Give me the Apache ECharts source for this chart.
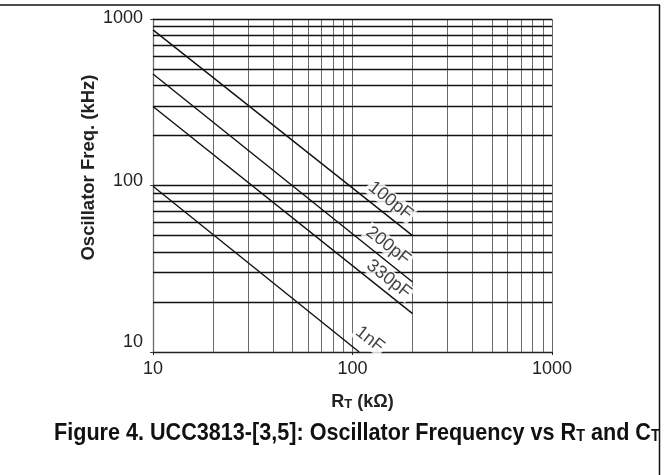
<!DOCTYPE html>
<html><head><meta charset="utf-8">
<script src="https://cdn.jsdelivr.net/npm/echarts@6/dist/echarts.min.js"></script>
<style>html,body{margin:0;padding:0;background:#fff}#c{width:669px;height:475px}</style>
</head><body><div id="c"></div>
<script>
// ---- data ----
const xTickLabels = ['10', '100', '1000'];
const yTickLabels = ['10', '100', '1000'];
const xGridValues = [10, 20, 30, 40, 50, 60, 70, 80, 90, 100, 200, 300, 400, 500, 600, 700, 800, 900, 1000];
const yGridValues = [20, 30, 40, 50, 60, 70, 80, 90, 100, 200, 300, 400, 500, 600, 700, 800, 900, 1000];
const seriesNames = ['100pF', '200pF', '330pF', '1nF'];
const rt100pF = [10, 200];
const f100pF = [860, 50];
const rt200pF = [10, 200];
const f200pF = [467, 26.3];
const rt330pF = [10, 200];
const f330pF = [298, 17];
const rt1nF = [10, 108];
const f1nF = [99, 10];
const labelRT = [155, 151, 152, 122];
const labelF = [81, 43.5, 27.4, 11.9];

// ---- build ----
const zip = (xs, ys) => xs.map((x, i) => [x, ys[i]]);
const curves = [zip(rt100pF, f100pF), zip(rt200pF, f200pF), zip(rt330pF, f330pF), zip(rt1nF, f1nF)];
const FONT = '"Liberation Sans", Arial, Helvetica, sans-serif';

const chart = echarts.init(document.getElementById('c'), null, {renderer: 'canvas'});
const series = [];
series.push({
  type: 'line', data: [], silent: true, z: 1, animation: false,
  markLine: {
    silent: true, symbol: ['none', 'none'], animation: false,
    label: {show: false},
    lineStyle: {type: 'solid', color: '#6a6a6a', width: 1},
    data: xGridValues.map(v => ({xAxis: v}))
  }
});
series.push({
  type: 'line', data: [], silent: true, z: 2, animation: false,
  markLine: {
    silent: true, symbol: ['none', 'none'], animation: false,
    label: {show: false},
    lineStyle: {type: 'solid', color: '#111', width: 1.4},
    data: yGridValues.map(v => ({yAxis: v}))
  }
});
curves.forEach((c, i) => {
  series.push({
    name: seriesNames[i], type: 'line', data: c, showSymbol: false, symbol: 'none',
    z: 6, animation: false, silent: true,
    lineStyle: {color: '#111', width: 1.4}
  });
});
series.push({
  type: 'scatter', z: 5, animation: false, silent: true,
  symbolSize: 1, itemStyle: {color: 'rgba(0,0,0,0)'},
  data: labelRT.map((x, i) => [x, labelF[i], seriesNames[i]]),
  label: {
    show: true, position: 'inside', rotate: -38,
    formatter: p => p.value[2],
    fontFamily: FONT, fontSize: 18, color: '#111',
    backgroundColor: '#fff', padding: [0, 2, 0, 2]
  }
});

const yLabelStyle = {fontFamily: FONT, fontSize: 18, color: '#222'};
chart.setOption({
  animation: false,
  backgroundColor: '#fff',
  grid: {left: 153, right: 117, top: 19, bottom: 123, containLabel: false, outerBoundsMode: 'none'},
  xAxis: {
    type: 'log', logBase: 10, min: 10, max: 1000,
    axisLine: {show: true, lineStyle: {color: '#222', width: 1.4}},
    axisTick: {show: true, length: 3, lineStyle: {color: '#222'}},
    splitLine: {show: false},
    axisLabel: {fontFamily: FONT, fontSize: 18, color: '#222', margin: 8,
      formatter: v => xTickLabels.find(t => +t === Math.round(v)) || ''},
    name: '{r|R}{t|T}{r| (kΩ)}',
    nameLocation: 'middle', nameGap: 41, nameMoveOverlap: false,
    nameTextStyle: {padding: [0, 0, 0, 20],
      rich: {r: {fontFamily: FONT, fontSize: 18, fontWeight: 'bold', color: '#222', verticalAlign: 'bottom'},
             t: {fontFamily: FONT, fontSize: 13, fontWeight: 'bold', color: '#222', verticalAlign: 'bottom'}}}
  },
  yAxis: {
    type: 'log', logBase: 10, min: 10, max: 1000,
    axisLine: {show: true, lineStyle: {color: '#888', width: 1.4}},
    axisTick: {show: true, length: 3, lineStyle: {color: '#444'}},
    splitLine: {show: false},
    axisLabel: {margin: 10,
      formatter: v => {
        const t = yTickLabels.find(s => +s === Math.round(v)) || '';
        if (t === '10') return '{a|' + t + '}';
        if (t === '100') return '{b|' + t + '}';
        return '{c|' + t + '}';
      },
      rich: {
        a: Object.assign({padding: [0, 0, 20, 0]}, yLabelStyle),
        b: Object.assign({padding: [0, 0, 9, 0]}, yLabelStyle),
        c: Object.assign({padding: [0, 0, 2, 0]}, yLabelStyle)
      }},
    name: 'Oscillator Freq. (kHz)',
    nameLocation: 'middle', nameGap: 55, nameMoveOverlap: false,
    nameTextStyle: {fontFamily: FONT, fontSize: 18.5, fontWeight: 'bold', color: '#222', padding: [0, 0, 0, 36]}
  },
  graphic: [
    {type: 'line', shape: {x1: 0, y1: 5, x2: 660, y2: 5}, style: {stroke: '#111', lineWidth: 1.5}, silent: true},
    {type: 'line', shape: {x1: 659.5, y1: 5, x2: 659.5, y2: 475}, style: {stroke: '#111', lineWidth: 1.5}, silent: true},
    {type: 'text', x: 54, y: 433, scaleX: 0.9, silent: true,
     style: {text: '{c|Figure 4. UCC3813-[3,5]: Oscillator Frequency vs R}{s|T}{c| and C}{s|T}',
       verticalAlign: 'middle', align: 'left',
       rich: {c: {fontFamily: FONT, fontSize: 24, fontWeight: 'bold', fill: '#111', verticalAlign: 'bottom'},
              s: {fontFamily: FONT, fontSize: 16, fontWeight: 'bold', fill: '#111', verticalAlign: 'bottom', padding: [0, 0, 0, 0]}}}}
  ],
  series: series
});
</script></body></html>
